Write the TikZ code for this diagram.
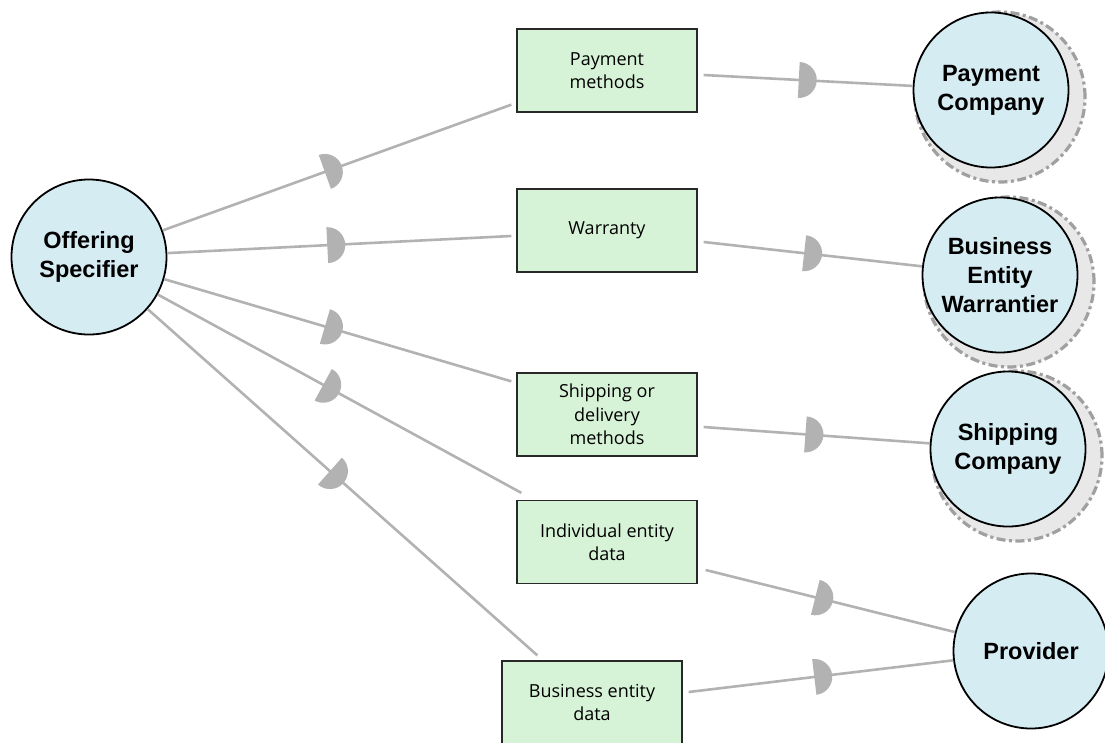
\documentclass[tikz,border=0pt]{standalone}
\usepackage{fontspec}
\setmainfont{Open Sans}
\newfontfamily\circfont{Liberation Sans}
\usetikzlibrary{decorations.markings,calc}
\definecolor{cfill}{RGB}{214,236,243}
\definecolor{bfill}{RGB}{215,243,215}
\definecolor{lgray}{RGB}{178,178,178}
\definecolor{shfill}{RGB}{232,232,232}
\definecolor{shline}{RGB}{160,160,160}
\definecolor{boxline}{RGB}{40,40,40}
\begin{document}
\begin{tikzpicture}[x=1pt,y=-1pt,
  circ/.style={circle, draw=black, line width=1.8pt, fill=cfill, minimum size=155pt, inner sep=0pt, align=center, font=\circfont\bfseries\fontsize{23.5}{29}\selectfont},
  shad/.style={circle, draw=shline, line width=3.2pt, dash pattern=on 9pt off 3.5pt on 3pt off 3.5pt, fill=shfill, minimum size=170pt, inner sep=0pt},
  box/.style={rectangle, draw=boxline, line width=1.3pt, fill=bfill, minimum width=180pt, minimum height=83pt, inner sep=0pt, align=center, font=\fontsize{18}{23.5}\selectfont},
  conn/.style={draw=lgray, line width=2.6pt, postaction={decorate}, decoration={markings, mark=at position #1 with {\fill[lgray] (0pt,-18pt) -- (0pt,18pt) arc[start angle=90,end angle=-90,x radius=18pt,y radius=18pt] -- cycle;}}},
]
\useasboundingbox (0,0) rectangle (1105,742);
\clip (0,0) rectangle (1105,742);

% shadows
\node[shad] (pcs) at (1000,97) {};
\node[shad] (bews) at (1009,282) {};
\node[shad] (scs) at (1017,456) {};

% circles
\node[circ] (off) at (89,257) {Offering\\Specifier};
\node[circ] (pc) at (991,90) {Payment\\Company};
\node[circ] (bew) at (1000,275) {Business\\Entity\\Warrantier};
\node[circ] (sc) at (1008,449) {Shipping\\Company};
\node[circ] (prov) at (1031,651) {Provider};

% boxes
\node[box] (pm) at (607,70.5) {Payment\\methods};
\node[box] (wa) at (607,230.5) {Warranty};
\node[box] (sh) at (607,414.5) {Shipping or\\delivery\\methods};
\node[box] (ie) at (607,542) {Individual entity\\data};
\node[box] (be) at (592,702.5) {Business entity\\data};

% connector ends
\coordinate (e1) at ($(pm.south west)+(-5,-8)$);
\coordinate (e2) at ($(wa.west)+(-5,5.5)$);
\coordinate (e3) at ($(sh.north west)+(-5,9)$);
\coordinate (e4) at ($(ie.north west)+(5,-7)$);
\coordinate (e5) at ($(be.north west)+(36,-5)$);
\coordinate (s1) at ($(pm.east)+(6,4.5)$);
\coordinate (s2) at ($(wa.east)+(6,11.5)$);
\coordinate (s3) at ($(sh.east)+(6,12.5)$);
\coordinate (s4) at ($(ie.east)+(8,28)$);
\coordinate (s5) at ($(be.east)+(6,-10.5)$);

% connectors
\draw[conn=0.465] (off) -- (e1);
\draw[conn=0.465] (off) -- (e2);
\draw[conn=0.463] (off) -- (e3);
\draw[conn=0.455] (off) -- (e4);
\draw[conn=0.468] (off) -- (e5);
\draw[conn=0.455] (s1) -- (pc);
\draw[conn=0.46] (s2) -- (bew);
\draw[conn=0.45] (s3) -- (sc);
\draw[conn=0.44] (s4) -- (prov);
\draw[conn=0.475] (s5) -- (prov);
\end{tikzpicture}
\end{document}
